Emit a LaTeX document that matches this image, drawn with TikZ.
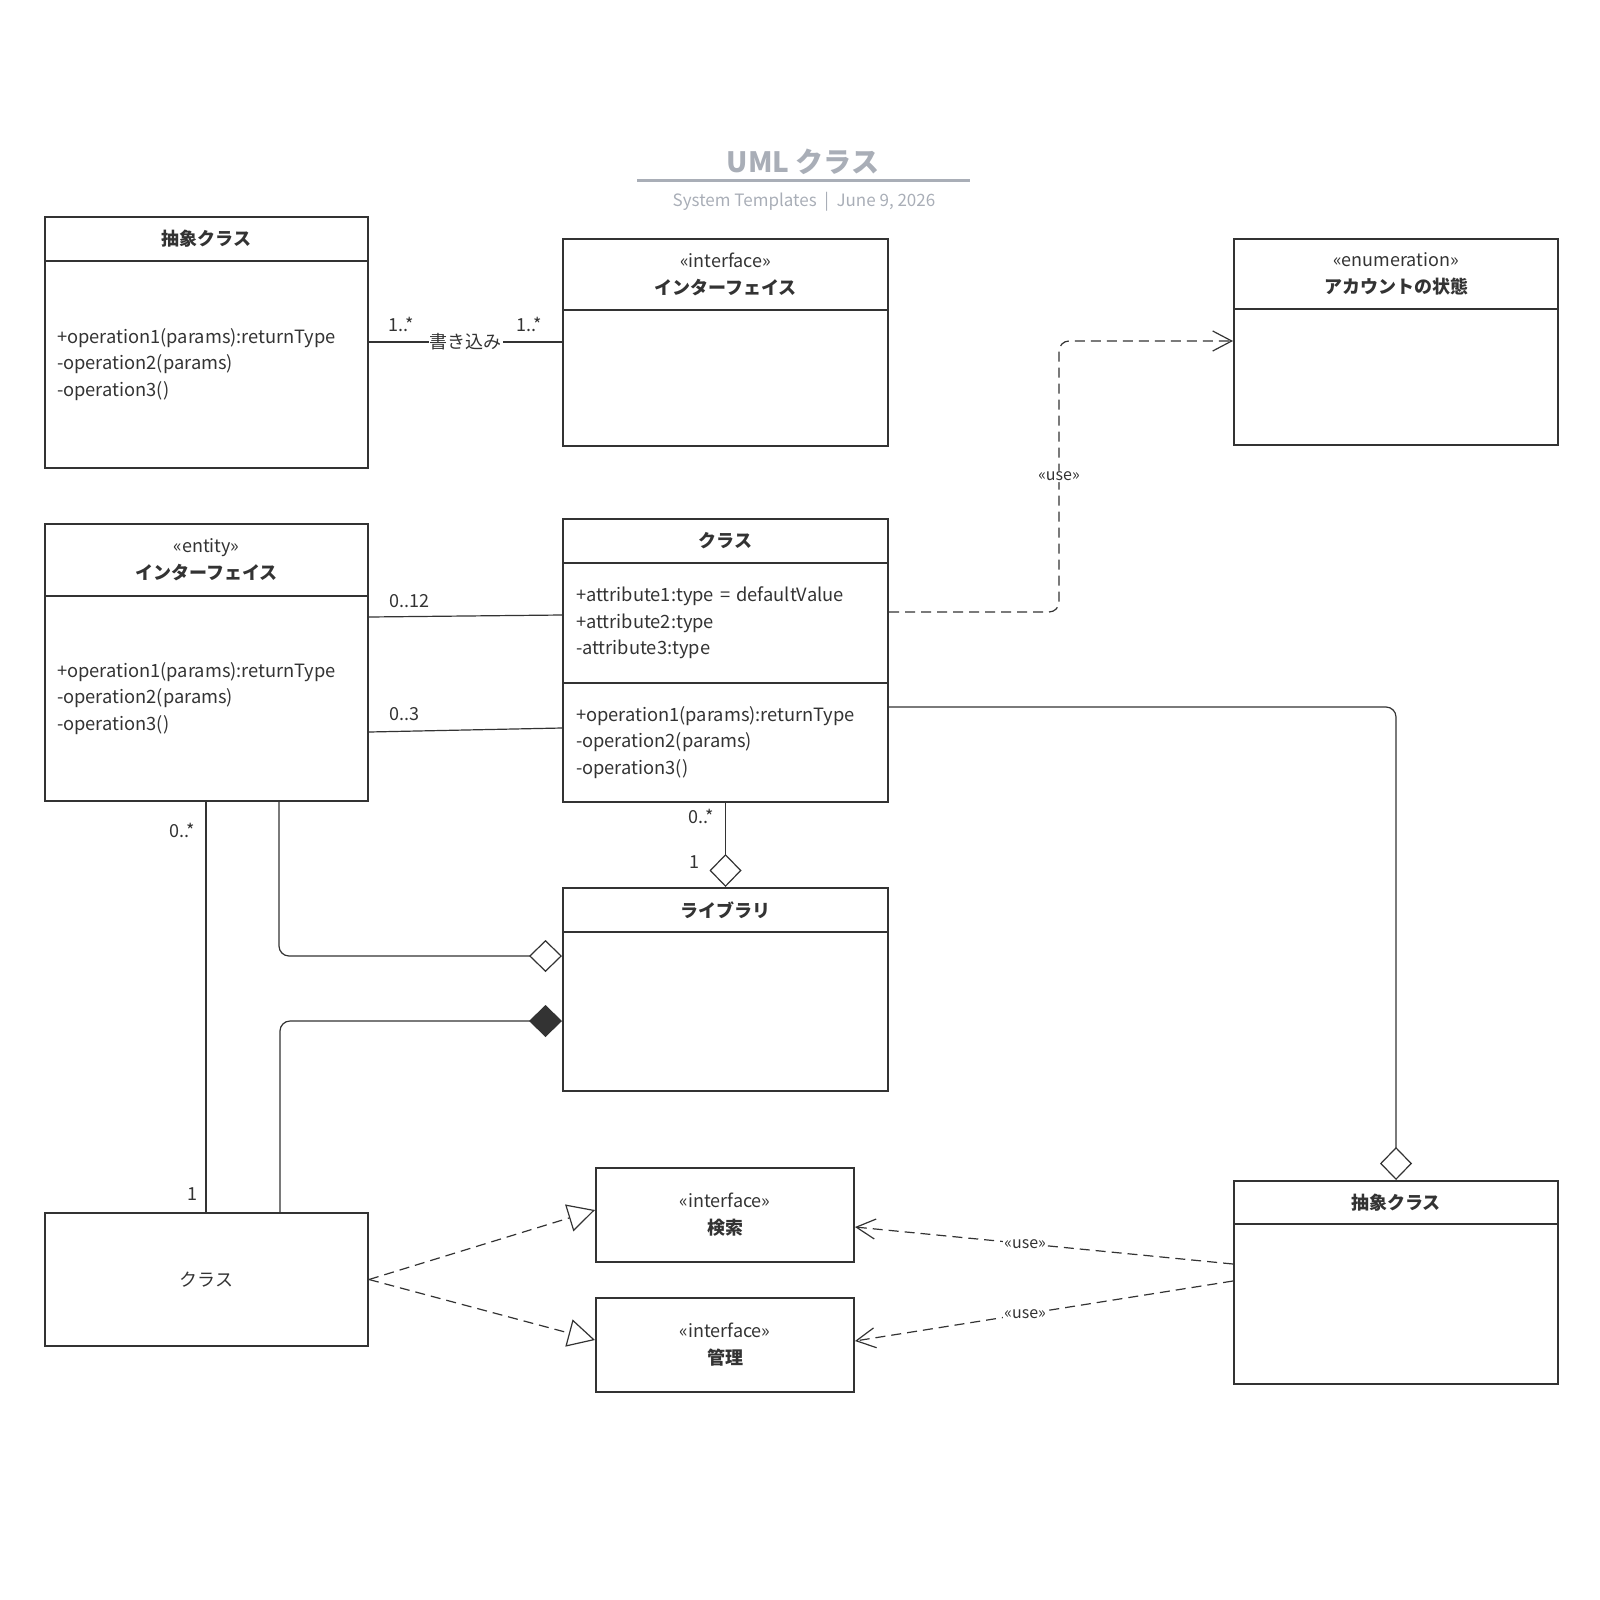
\documentclass[tikz,border=0pt]{standalone}
\usepackage{fontspec}
\setmainfont{Noto Sans CJK JP}
\usetikzlibrary{arrows.meta,positioning}

\tikzset{
  hdr/.style={draw=umlline, line width=2pt, anchor=north west, inner sep=0pt,
    minimum width=323pt, minimum height=44pt, align=center, text=umlline,
    font=\fontsize{18}{27}\selectfont\bfseries},
  body/.style={draw=umlline, line width=2pt, anchor=north west, inner xsep=12pt,
    minimum width=323pt, text width=299pt, align=left, text=umlline,
    font=\fontsize{18.3}{26.5}\selectfont},
  cls/.style={draw=umlline, line width=2pt, anchor=north west, align=center,
    text=umlline, font=\fontsize{18}{27}\selectfont},
  mult/.style={text=umlline, inner sep=1pt, font=\fontsize{18}{20}\selectfont},
  uselbl/.style={fill=white, text=umlline, inner sep=1pt, font=\fontsize{16}{18}\selectfont},
  assoc/.style={draw=umlline, line width=1.2pt},
  dep/.style={draw=umlline, line width=1.2pt, dash pattern=on 10pt off 6pt,
    -{Straight Barb[length=19pt,width=20pt]}},
  real/.style={draw=umlline, line width=1.2pt, dash pattern=on 10pt off 6pt,
    -{Triangle[open,fill=white,length=27pt,width=28pt]}},
  agg/.style={-{Diamond[open,fill=white,length=33pt,width=32pt]}},
  comp/.style={-{Diamond[fill=umlline,length=33pt,width=32pt]}}
}

\begin{document}
\begin{tikzpicture}[x=1pt,y=-1pt]
  \definecolor{umlline}{HTML}{333333}
  \definecolor{titlegray}{HTML}{A9AEB7}
  \useasboundingbox (0,0) rectangle (1600,1600);

  % title
  \node[text=titlegray, font=\fontsize{28}{34}\selectfont\bfseries] (title) at (803,162) {UML クラス};
  \draw[titlegray, line width=3pt] (637,180) -- (970,180);
  \node[text=titlegray, font=\fontsize{17}{20}\selectfont] (subtitle) at (804,202) {System Templates \ | \ June 9, 2026};

  % upper row
  \node[hdr] (hAbs) at (44,216) {抽象クラス};
  \node[body, minimum height=207pt] (bAbs) at (44,260)
    {+operation1(params):returnType\\-operation2(params)\\-operation3()};
  \node[hdr, minimum width=325pt, minimum height=71pt] (hIf) at (562,238)
    {{\mdseries «interface»}\\インターフェイス};
  \node[body, minimum width=325pt, minimum height=136pt] (bIf) at (562,309) {};
  \node[hdr, minimum width=324pt, minimum height=70pt] (hEnum) at (1233,238)
    {{\mdseries «enumeration»}\\アカウントの状態};
  \node[body, minimum width=324pt, minimum height=136pt] (bEnum) at (1233,308) {};

  % middle row
  \node[hdr, minimum height=72pt] (hEnt) at (44,523)
    {{\mdseries «entity»}\\インターフェイス};
  \node[body, minimum height=205pt] (bEnt) at (44,595)
    {+operation1(params):returnType\\-operation2(params)\\-operation3()};
  \node[hdr, minimum width=325pt] (hCls) at (562,518) {クラス};
  \node[body, minimum width=325pt, minimum height=120pt] (bAttr) at (562,562)
    {+attribute1:type = defaultValue\\+attribute2:type\\-attribute3:type};
  \node[body, minimum width=325pt, minimum height=119pt] (bOps) at (562,682)
    {+operation1(params):returnType\\-operation2(params)\\-operation3()};
  \node[hdr, minimum width=325pt] (hLib) at (562,887) {ライブラリ};
  \node[body, minimum width=325pt, minimum height=159pt] (bLib) at (562,931) {};

  % lower row
  \node[cls, minimum width=323pt, minimum height=133pt] (bSub) at (44,1212) {クラス};
  \node[cls, minimum width=258pt, minimum height=94pt] (bSearch) at (595,1167)
    {«interface»\\\textbf{検索}};
  \node[cls, minimum width=258pt, minimum height=94pt] (bAdmin) at (595,1297)
    {«interface»\\\textbf{管理}};
  \node[hdr, minimum width=324pt, minimum height=43pt] (hAbs2) at (1233,1180) {抽象クラス};
  \node[body, minimum width=324pt, minimum height=160pt] (bAbs2) at (1233,1223) {};

  % connectors
  \draw[assoc] (bAbs.east |- 0,342) -- node[fill=white, inner sep=1pt, text=umlline,
    font=\fontsize{18}{20}\selectfont] {書き込み} (bIf.west |- 0,342);
  \node[mult] (mAbs) at (401,324) {1..*};
  \node[mult] (mIf) at (529,324) {1..*};

  \draw[assoc] (bEnt.east |- 0,617) -- (bAttr.west |- 0,615);
  \node[mult] (mAttr) at (409,601) {0..12};
  \draw[assoc] (bEnt.east |- 0,732) -- (bOps.west |- 0,728);
  \node[mult] (mOps) at (404,714) {0..3};

  \coordinate (bendEnum) at (1059,341);
  \draw[dep, rounded corners=10pt] (bAttr.east |- 0,612) -| node[pos=.75, uselbl] {«use»}
    (bendEnum) -- (bEnum.west |- bendEnum);

  \draw[assoc, agg, rounded corners=10pt] (bOps.east |- 0,707) -| (hAbs2.north);

  \draw[assoc, agg] (bOps.south) -- (hLib.north);
  \node[mult] (mLibTop) at (701,816) {0..*};
  \node[mult] (mLibOne) at (694,862) {1};

  \draw[assoc, agg, rounded corners=10pt] (bEnt.south -| 279,0) |- (bLib.west |- 0,956);
  \draw[assoc] (bEnt.south -| 206,0) -- (bSub.north -| 206,0);
  \node[mult] (mEntSub) at (182,830) {0..*};
  \node[mult] (mSubOne) at (192,1194) {1};
  \draw[assoc, comp, rounded corners=10pt] (bSub.north -| 280,0) |- (bLib.west |- 0,1021);

  \draw[real] (bSub.east) -- (bSearch.west |- 0,1210);
  \draw[real] (bSub.east) -- (bAdmin.west |- 0,1340);

  \draw[dep] (bAbs2.west |- 0,1264) -- node[pos=.55, uselbl] {«use»} (bSearch.east |- 0,1227);
  \draw[dep] (bAbs2.west |- 0,1281) -- node[pos=.55, uselbl] {«use»} (bAdmin.east |- 0,1341);
\end{tikzpicture}
\end{document}
